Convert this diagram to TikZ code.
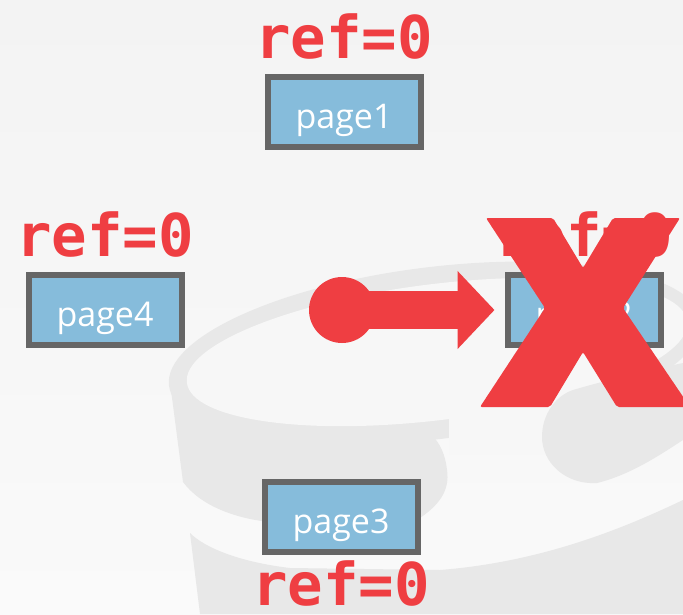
\documentclass[tikz,border=0pt]{standalone}
\usepackage{fontspec}
\usetikzlibrary{positioning,arrows.meta}
\newfontfamily\reffont{DejaVu Sans Mono}
\newfontfamily\pagefont{Open Sans}
\definecolor{refred}{HTML}{EF3E42}
\definecolor{pageblue}{HTML}{86BCDB}
\definecolor{pageedge}{HTML}{666666}
\definecolor{bgtop}{HTML}{F3F3F3}
\definecolor{bgbottom}{HTML}{FAFAFA}
\definecolor{markgray}{HTML}{E8E8E8}
\definecolor{markhole}{HTML}{F7F7F7}
\tikzset{
  pagebox/.style={draw=pageedge, line width=6pt, fill=pageblue,
    minimum width=153pt, minimum height=70pt, inner sep=0pt,
    text height=32pt, text depth=0pt,
    text=white, font=\pagefont\fontsize{34}{34}\selectfont},
  reflabel/.style={text=refred, inner sep=0pt,
    font=\reffont\bfseries\fontsize{59}{59}\selectfont},
  pinhead/.style={circle, fill=refred, minimum size=66pt, inner sep=0pt},
  pointer/.style={draw=refred, line width=38pt,
    -{Triangle[length=37pt,width=76pt]}, shorten >=10pt},
}
\begin{document}
\begin{tikzpicture}[x=1pt, y=-1pt]
\useasboundingbox (0,0) rectangle (683,614);
% Background
\shade[top color=bgtop, bottom color=bgbottom] (0,0) rectangle (683,614);
% Watermark
\begin{scope}[fill=markgray]
  \fill[rotate around={7:(435,353)}] (435,353) ellipse [x radius=268pt, y radius=86pt];
  \fill (171,390) -- (183,482) .. controls (200,505) and (235,520) .. (280,523)
    -- (417,520) .. controls (440,505) and (450,490) .. (447,470)
    .. controls (444,440) and (425,423) .. (400,421) -- (400,380) -- (200,380) -- cycle;
  \fill[markhole, rotate around={7:(437,352)}] (437,352) ellipse [x radius=252pt, y radius=68pt];
  \fill[markhole] (449,395) rectangle (560,455);
  \fill (683,363) .. controls (640,372) and (600,382) .. (573,390)
    .. controls (555,396) and (542,415) .. (542,437)
    .. controls (542,462) and (565,485) .. (597,483)
    .. controls (630,475) and (660,455) .. (683,440) -- cycle;
  \fill (190,533) .. controls (205,548) and (240,562) .. (290,568) -- (440,570)
    .. controls (540,562) and (620,530) .. (683,500) -- (683,614) -- (200,614) -- cycle;
\end{scope}
% Pages
\node[pagebox] (page1) at (344,112) {page1};
\node[pagebox] (page4) at (105,310) {page4};
\node[pagebox] (page2) at (584,310) {page2};
\node[pagebox] (page3) at (341,517) {page3};
% Reference counts
\node[reflabel, above=14pt of page1] (ref1) {ref=0};
\node[reflabel, above=14pt of page4] (ref4) {ref=0};
\node[reflabel, above=14pt of page2] (ref2) {ref=0};
\node[reflabel, below=5pt of page3] (ref3) {ref=0};
% Pointer
\node[pinhead] (pin) at (342,310) {};
\draw[pointer] (pin.center) -- (page2);
% Evicted
\fill[refred, rounded corners=2pt] (486,218) -- (553,218) -- (583,268) -- (613,218)
  -- (680,218) -- (623,308) -- (690,407) -- (617,407) -- (583,352) -- (550,407)
  -- (480,407) -- (545,308) -- cycle;
\end{tikzpicture}
\end{document}
